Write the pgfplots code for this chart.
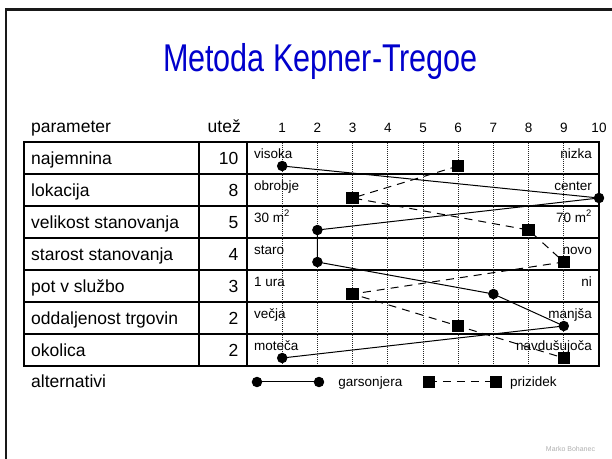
\documentclass[border=0pt]{standalone}
\usepackage{pgfplots}
\pgfplotsset{compat=1.18}
\usepackage{fontspec}
\setmainfont{Liberation Sans}
\newfontfamily\titlefont[FakeStretch=0.79]{Liberation Sans}
\definecolor{titleblue}{RGB}{0,0,204}
\definecolor{siggray}{RGB}{175,175,175}
\newcommand\rowfont{\fontsize{17.5bp}{20bp}\selectfont}
\newcommand\smallfont{\fontsize{13.5bp}{15bp}\selectfont}
\pgfplotsset{
  garsleg/.style={legend image code/.code={\draw[##1] plot coordinates {(0bp,0bp) (62bp,0bp)}; \path (72.5bp,0bp);}},
  prizleg/.style={legend image code/.code={\draw[##1] plot coordinates {(0bp,0bp) (67bp,0bp)};}},
}
\begin{document}
\begin{tikzpicture}
\useasboundingbox (0bp,0bp) rectangle (612bp,459bp);
\begin{axis}[at={(0bp,0bp)}, anchor=south west, width=612bp, height=459bp, scale only axis,
  xmin=0, xmax=612, ymin=0, ymax=459, y dir=reverse, hide axis, clip=false]
  % slide frame
  \draw[line width=2.5bp, black!90] (axis cs:6,459) -- (axis cs:6,9.5) -- (axis cs:612,9.5);
  % title
  \node[anchor=base, inner sep=0pt, text=titleblue, font=\titlefont\fontsize{38.7bp}{40bp}\selectfont] at (axis cs:320.5,72) {Metoda Kepner-Tregoe};
  % table lines
  \draw[line width=1.4bp] (axis cs:24,142) rectangle (axis cs:599,366);
  \draw[line width=1.3bp] (axis cs:24,174) -- (axis cs:599,174);
  \draw[line width=1.3bp] (axis cs:24,206) -- (axis cs:599,206);
  \draw[line width=1.3bp] (axis cs:24,238) -- (axis cs:599,238);
  \draw[line width=1.3bp] (axis cs:24,270) -- (axis cs:599,270);
  \draw[line width=1.3bp] (axis cs:24,302) -- (axis cs:599,302);
  \draw[line width=1.3bp] (axis cs:24,334) -- (axis cs:599,334);
  \draw[line width=1.3bp] (axis cs:199,142) -- (axis cs:199,366);
  % header
  \node[anchor=base west, inner sep=0pt, font=\rowfont] at (axis cs:31,132) {parameter};
  \node[anchor=base west, inner sep=0pt, font=\rowfont] at (axis cs:207.5,132) {utež};
  % row names
  \node[anchor=base west, inner sep=0pt, font=\rowfont] at (axis cs:31,164) {najemnina};
  \node[anchor=base west, inner sep=0pt, font=\rowfont] at (axis cs:31,196) {lokacija};
  \node[anchor=base west, inner sep=0pt, font=\rowfont] at (axis cs:31,228) {velikost stanovanja};
  \node[anchor=base west, inner sep=0pt, font=\rowfont] at (axis cs:31,260) {starost stanovanja};
  \node[anchor=base west, inner sep=0pt, font=\rowfont] at (axis cs:31,292) {pot v službo};
  \node[anchor=base west, inner sep=0pt, font=\rowfont] at (axis cs:31,324) {oddaljenost trgovin};
  \node[anchor=base west, inner sep=0pt, font=\rowfont] at (axis cs:31,356) {okolica};
  % weights
  \node[anchor=base east, inner sep=0pt, font=\rowfont] at (axis cs:238.5,164) {10};
  \node[anchor=base east, inner sep=0pt, font=\rowfont] at (axis cs:238.5,196) {8};
  \node[anchor=base east, inner sep=0pt, font=\rowfont] at (axis cs:238.5,228) {5};
  \node[anchor=base east, inner sep=0pt, font=\rowfont] at (axis cs:238.5,260) {4};
  \node[anchor=base east, inner sep=0pt, font=\rowfont] at (axis cs:238.5,292) {3};
  \node[anchor=base east, inner sep=0pt, font=\rowfont] at (axis cs:238.5,324) {2};
  \node[anchor=base east, inner sep=0pt, font=\rowfont] at (axis cs:238.5,356) {2};
  % left scale labels
  \node[anchor=base west, inner sep=0pt, font=\smallfont] at (axis cs:254,158) {visoka};
  \node[anchor=base west, inner sep=0pt, font=\smallfont] at (axis cs:254,190) {obrobje};
  \node[anchor=base west, inner sep=0pt, font=\smallfont] at (axis cs:254,222) {30 m\textsuperscript{2}};
  \node[anchor=base west, inner sep=0pt, font=\smallfont] at (axis cs:254,254) {staro};
  \node[anchor=base west, inner sep=0pt, font=\smallfont] at (axis cs:254,286) {1 ura};
  \node[anchor=base west, inner sep=0pt, font=\smallfont] at (axis cs:254,318) {večja};
  \node[anchor=base west, inner sep=0pt, font=\smallfont] at (axis cs:254,350) {moteča};
  % right scale labels
  \node[anchor=base east, inner sep=0pt, font=\smallfont] at (axis cs:592,158) {nizka};
  \node[anchor=base east, inner sep=0pt, font=\smallfont] at (axis cs:592,190) {center};
  \node[anchor=base east, inner sep=0pt, font=\smallfont] at (axis cs:592,222) {70 m\textsuperscript{2}};
  \node[anchor=base east, inner sep=0pt, font=\smallfont] at (axis cs:592,254) {novo};
  \node[anchor=base east, inner sep=0pt, font=\smallfont] at (axis cs:592,286) {ni};
  \node[anchor=base east, inner sep=0pt, font=\smallfont] at (axis cs:592,318) {manjša};
  \node[anchor=base east, inner sep=0pt, font=\smallfont] at (axis cs:592,350) {navdušujoča};
  % legend row label
  \node[anchor=base west, inner sep=0pt, font=\rowfont] at (axis cs:31,387) {alternativi};
  % signature
  \node[anchor=base, inner sep=0pt, text=siggray, font=\fontsize{7bp}{8bp}\selectfont] at (axis cs:570.5,451.5) {Marko Bohanec};
  \coordinate (gsw) at (axis cs:247,366);
\end{axis}
\begin{axis}[at={(gsw)}, anchor=south west, width=352bp, height=224bp, scale only axis,
  xmin=0, xmax=10, ymin=0, ymax=7,
  axis line style={line width=1.4bp, black},
  xtick={1,2,...,10}, ytick=\empty,
  xticklabel pos=right, major tick length=0pt,
  xmajorgrids, grid style={line width=0.8bp, black!85, dash pattern=on 1bp off 1bp},
  tick label style={font=\fontsize{13.5bp}{14bp}\selectfont},
  xticklabel style={anchor=base, inner sep=0pt, yshift=9bp},
  /pgf/number format/assume math mode=true,
  clip=false,
  legend columns=2,
  legend style={draw=none, fill=none, at={(axis cs:0.15,-0.5)}, anchor=west,
    inner sep=0pt, outer sep=0pt, font=\smallfont,
    nodes={inner sep=0pt},
    /tikz/every odd column/.append style={column sep=8.5bp},
    /tikz/every even column/.append style={column sep=21bp}},
]
\addplot[black, line width=1bp, mark=*, mark size=4.7bp, mark options={solid, fill=black}, garsleg]
  table {
x y
1 6.25
10 5.25
2 4.25
2 3.25
7 2.25
9 1.25
1 0.25
};
\addlegendentry{garsonjera}
\addplot[black, line width=1bp, dash pattern=on 8bp off 6bp, mark=square*, mark size=5.7bp, mark options={solid, fill=black}, prizleg]
  table {
x y
6 6.25
3 5.25
8 4.25
9 3.25
3 2.25
6 1.25
9 0.25
};
\addlegendentry{prizidek}
\end{axis}
\end{tikzpicture}
\end{document}
